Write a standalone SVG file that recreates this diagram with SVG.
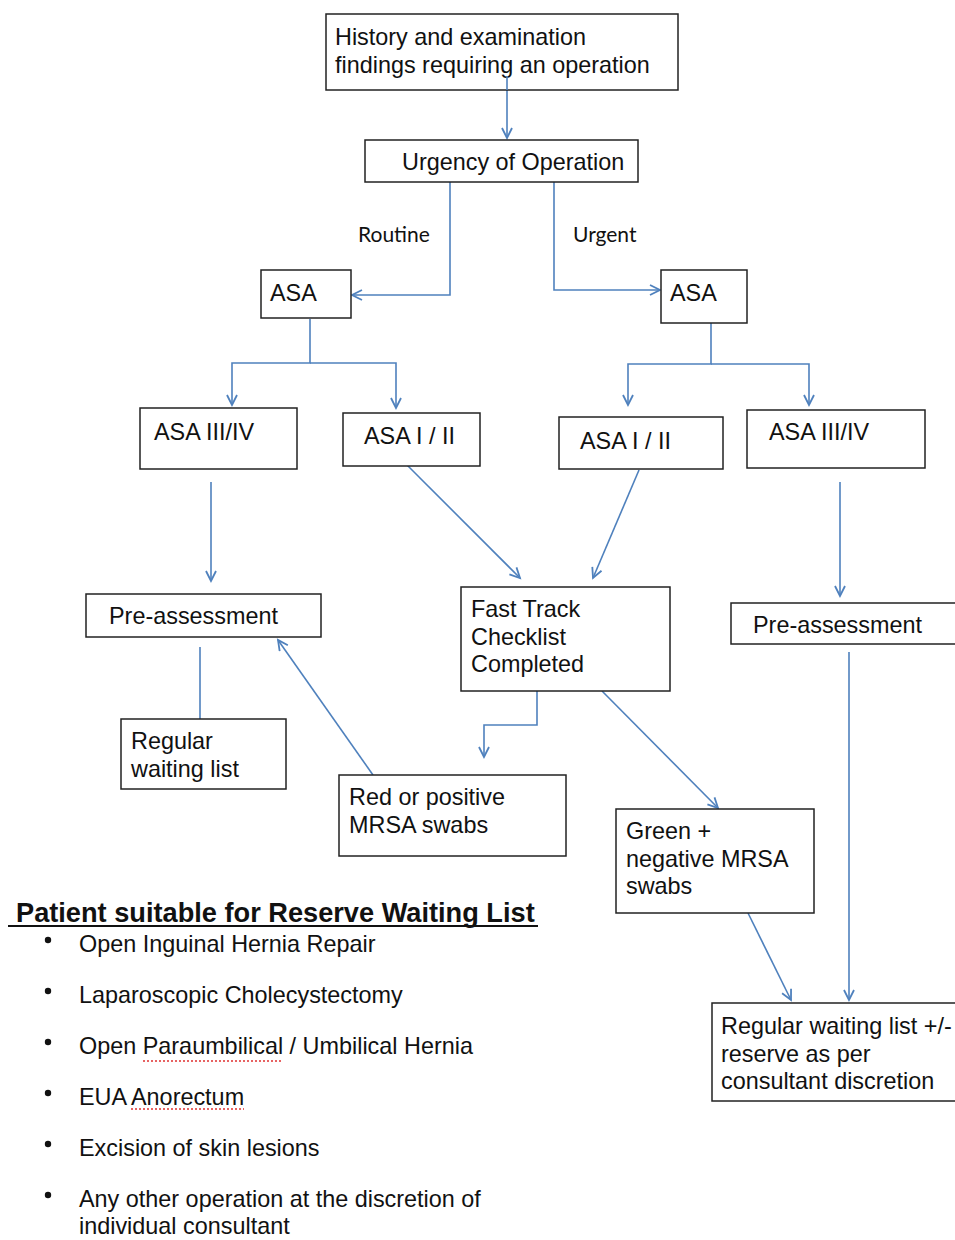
<svg xmlns="http://www.w3.org/2000/svg" width="955" height="1240" viewBox="0 0 955 1240">
<style>
.box{fill:#fff;stroke:#222;stroke-width:1.5}
.t{font-family:"Liberation Sans",Arial,sans-serif;font-size:23.4px;fill:#111}
.lbl{font-family:Lato,"Open Sans",sans-serif;font-size:21px;fill:#111}
.hd{font-family:"Liberation Sans",Arial,sans-serif;font-size:27.2px;font-weight:bold;fill:#111}
.c{fill:none;stroke:#4F81BD;stroke-width:1.6}
.spell{fill:none;stroke:#e03030;stroke-width:1.5;stroke-dasharray:2 2}
</style>
<defs>
<marker id="ah" markerUnits="userSpaceOnUse" markerWidth="14" markerHeight="14" refX="11" refY="6" orient="auto">
<path d="M1,1 L11,6 L1,11" fill="none" stroke="#4F81BD" stroke-width="1.8"/>
</marker>
</defs>
<rect width="955" height="1240" fill="#fff"/>

<g id="connectors">
<path class="c" d="M507,76 V138" marker-end="url(#ah)"/>
<path class="c" d="M450,182 V295 H352" marker-end="url(#ah)"/>
<path class="c" d="M554,182 V290 H660" marker-end="url(#ah)"/>
<path class="c" d="M310,319 V363 H232 V405" marker-end="url(#ah)"/>
<path class="c" d="M310,363 H396 V408" marker-end="url(#ah)"/>
<path class="c" d="M711,321 V364 H628 V405" marker-end="url(#ah)"/>
<path class="c" d="M711,364 H809 V405" marker-end="url(#ah)"/>
<path class="c" d="M403,461 L520,578" marker-end="url(#ah)"/>
<path class="c" d="M639,470 L593,578" marker-end="url(#ah)"/>
<path class="c" d="M211,482 V581" marker-end="url(#ah)"/>
<path class="c" d="M840,482 V596" marker-end="url(#ah)"/>
<path class="c" d="M200,647 V719"/>
<path class="c" d="M373,775 L278,640" marker-end="url(#ah)"/>
<path class="c" d="M537,691 V725 H484 V757" marker-end="url(#ah)"/>
<path class="c" d="M602,691 L718,808" marker-end="url(#ah)"/>
<path class="c" d="M849,652 V1000" marker-end="url(#ah)"/>
<path class="c" d="M748,913 L791,1000" marker-end="url(#ah)"/>
</g>

<text class="lbl" x="358" y="242">Routine</text>
<text class="lbl" x="573" y="242">Urgent</text>

<g id="history">
<rect class="box" x="326" y="14" width="352" height="76"/>
<text class="t" x="335" y="45">History and examination</text>
<text class="t" x="335" y="73">findings requiring an operation</text>
</g>
<path class="c" d="M507,76 V90"/>

<g id="urgency">
<rect class="box" x="365" y="140" width="273" height="42"/>
<text class="t" x="402" y="170">Urgency of Operation</text>
</g>

<g id="asa-left">
<rect class="box" x="261" y="270" width="90" height="48"/>
<text class="t" x="270" y="301">ASA</text>
</g>
<g id="asa-right">
<rect class="box" x="661" y="270" width="86" height="53"/>
<text class="t" x="670" y="301">ASA</text>
</g>

<g id="asa34-left">
<rect class="box" x="140" y="408" width="157" height="61"/>
<text class="t" x="154" y="440">ASA III/IV</text>
</g>
<g id="asa12-left">
<rect class="box" x="343" y="413" width="137" height="53"/>
<text class="t" x="364" y="444">ASA I / II</text>
</g>
<g id="asa12-right">
<rect class="box" x="559" y="417" width="164" height="52"/>
<text class="t" x="580" y="449">ASA I / II</text>
</g>
<g id="asa34-right">
<rect class="box" x="747" y="410" width="178" height="58"/>
<text class="t" x="769" y="440">ASA III/IV</text>
</g>

<g id="preassess-left">
<rect class="box" x="86" y="594" width="235" height="43"/>
<text class="t" x="109" y="624">Pre-assessment</text>
</g>
<g id="fasttrack">
<rect class="box" x="461" y="587" width="209" height="104"/>
<text class="t" x="471" y="617">Fast Track</text>
<text class="t" x="471" y="645">Checklist</text>
<text class="t" x="471" y="672">Completed</text>
</g>
<g id="preassess-right">
<rect class="box" x="731" y="603" width="240" height="41"/>
<text class="t" x="753" y="633">Pre-assessment</text>
</g>

<g id="regular">
<rect class="box" x="121" y="719" width="165" height="70"/>
<text class="t" x="131" y="749">Regular</text>
<text class="t" x="131" y="777">waiting list</text>
</g>
<g id="red">
<rect class="box" x="339" y="775" width="227" height="81"/>
<text class="t" x="349" y="805">Red or positive</text>
<text class="t" x="349" y="833">MRSA swabs</text>
</g>
<g id="green">
<rect class="box" x="616" y="809" width="198" height="104"/>
<text class="t" x="626" y="839">Green +</text>
<text class="t" x="626" y="867">negative MRSA</text>
<text class="t" x="626" y="894">swabs</text>
</g>
<g id="final">
<rect class="box" x="712" y="1003" width="260" height="98"/>
<text class="t" x="721" y="1034">Regular waiting list +/-</text>
<text class="t" x="721" y="1062">reserve as per</text>
<text class="t" x="721" y="1089">consultant discretion</text>
</g>

<g id="reserve-list">
<text class="hd" x="16" y="922">Patient suitable for Reserve Waiting List</text>
<line x1="8" y1="926" x2="538" y2="926" stroke="#111" stroke-width="2"/>
<circle cx="48" cy="940" r="3.2" fill="#111"/>
<text class="t" x="79" y="952">Open Inguinal Hernia Repair</text>
<circle cx="48" cy="991" r="3.2" fill="#111"/>
<text class="t" x="79" y="1003">Laparoscopic Cholecystectomy</text>
<circle cx="48" cy="1042" r="3.2" fill="#111"/>
<text class="t" x="79" y="1054">Open Paraumbilical / Umbilical Hernia</text>
<circle cx="48" cy="1093" r="3.2" fill="#111"/>
<text class="t" x="79" y="1105">EUA Anorectum</text>
<circle cx="48" cy="1144" r="3.2" fill="#111"/>
<text class="t" x="79" y="1156">Excision of skin lesions</text>
<circle cx="48" cy="1195" r="3.2" fill="#111"/>
<text class="t" x="79" y="1207">Any other operation at the discretion of</text>
<text class="t" x="79" y="1234">individual consultant</text>
<path class="spell" d="M143,1061 H282"/>
<path class="spell" d="M131,1109 H244"/>
</g>
</svg>
